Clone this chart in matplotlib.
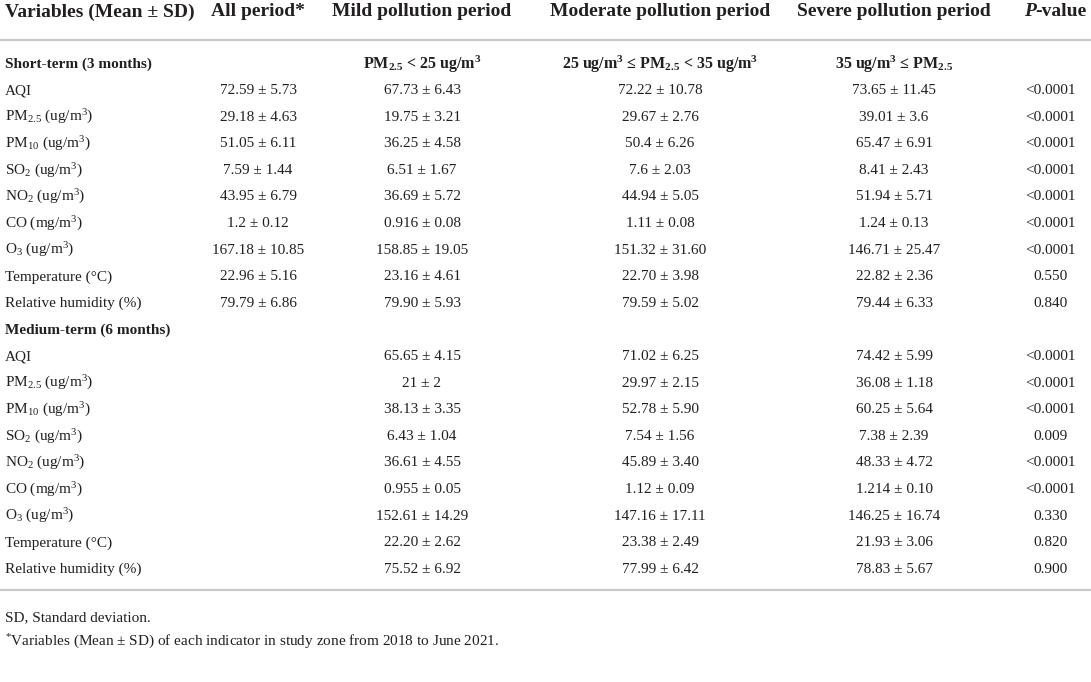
import matplotlib
matplotlib.use("Agg")
import matplotlib.pyplot as plt

plt.rcParams["font.family"] = "Liberation Serif"
plt.rcParams["mathtext.fontset"] = "custom"
plt.rcParams["mathtext.rm"] = "Liberation Serif"
plt.rcParams["mathtext.it"] = "Liberation Serif:italic"
plt.rcParams["mathtext.bf"] = "Liberation Serif:bold"
plt.rcParams["mathtext.default"] = "regular"

# ---- table content ----
headers = ["Variables (Mean ± SD)", "All period*", "Mild pollution period",
           "Moderate pollution period", "Severe pollution period", "P-value"]

variables = ["AQI", "PM$_{2.5}$ (ug/m$^{3}$)", "PM$_{10}$ (ug/m$^{3}$)",
             "SO$_{2}$ (ug/m$^{3}$)", "NO$_{2}$ (ug/m$^{3}$)", "CO (mg/m$^{3}$)",
             "O$_{3}$ (ug/m$^{3}$)", "Temperature (°C)", "Relative humidity (%)"]

short_label = "Short-term (3 months)"
short_ranges = ["",
                "PM$_{\\mathbf{2.5}}$ < 25 ug/m$^{\\mathbf{3}}$",
                "25 ug/m$^{\\mathbf{3}}$ ≤ PM$_{\\mathbf{2.5}}$ < 35 ug/m$^{\\mathbf{3}}$",
                "35 ug/m$^{\\mathbf{3}}$ ≤ PM$_{\\mathbf{2.5}}$"]
short_all = ["72.59 ± 5.73", "29.18 ± 4.63", "51.05 ± 6.11", "7.59 ± 1.44",
             "43.95 ± 6.79", "1.2 ± 0.12", "167.18 ± 10.85", "22.96 ± 5.16",
             "79.79 ± 6.86"]
short_mild = ["67.73 ± 6.43", "19.75 ± 3.21", "36.25 ± 4.58", "6.51 ± 1.67",
              "36.69 ± 5.72", "0.916 ± 0.08", "158.85 ± 19.05", "23.16 ± 4.61",
              "79.90 ± 5.93"]
short_moderate = ["72.22 ± 10.78", "29.67 ± 2.76", "50.4 ± 6.26", "7.6 ± 2.03",
                  "44.94 ± 5.05", "1.11 ± 0.08", "151.32 ± 31.60", "22.70 ± 3.98",
                  "79.59 ± 5.02"]
short_severe = ["73.65 ± 11.45", "39.01 ± 3.6", "65.47 ± 6.91", "8.41 ± 2.43",
                "51.94 ± 5.71", "1.24 ± 0.13", "146.71 ± 25.47", "22.82 ± 2.36",
                "79.44 ± 6.33"]
short_p = ["<0.0001"] * 7 + ["0.550", "0.840"]

medium_label = "Medium-term (6 months)"
medium_all = [""] * 9
medium_mild = ["65.65 ± 4.15", "21 ± 2", "38.13 ± 3.35", "6.43 ± 1.04",
               "36.61 ± 4.55", "0.955 ± 0.05", "152.61 ± 14.29", "22.20 ± 2.62",
               "75.52 ± 6.92"]
medium_moderate = ["71.02 ± 6.25", "29.97 ± 2.15", "52.78 ± 5.90", "7.54 ± 1.56",
                   "45.89 ± 3.40", "1.12 ± 0.09", "147.16 ± 17.11", "23.38 ± 2.49",
                   "77.99 ± 6.42"]
medium_severe = ["74.42 ± 5.99", "36.08 ± 1.18", "60.25 ± 5.64", "7.38 ± 2.39",
                 "48.33 ± 4.72", "1.214 ± 0.10", "146.25 ± 16.74", "21.93 ± 3.06",
                 "78.83 ± 5.67"]
medium_p = ["<0.0001", "<0.0001", "<0.0001", "0.009", "<0.0001", "<0.0001",
            "0.330", "0.820", "0.900"]

footnotes = ["SD, Standard deviation.",
             "$^{*}$Variables (Mean ± SD) of each indicator in study zone from 2018 to June 2021."]

# ---- layout (pixels) ----
W, H = 1091, 682
col_x = [5, 258, 422, 660, 894, 1050]
header_y = 12
line1_y = 40
row_start = 64
row_h = 26.6
text_color = "#231f20"
line_color = "#c8c8c8"
fs = 11
fs_head = 14
fs_range = 11.5

fig = plt.figure(figsize=(W / 100, H / 100), dpi=100)
ax = fig.add_axes([0, 0, 1, 1])
ax.set_xlim(0, W)
ax.set_ylim(H, 0)
ax.axis("off")

# header
for i, h in enumerate(headers[:-1]):
    ax.text(col_x[i], header_y, h, fontsize=fs_head, fontweight="bold",
            ha="left" if i == 0 else "center", va="center", color=text_color)

# "P-value" header: italic P + "-value", right edge near the figure border
value_txt = ax.text(1087, header_y, "-value", fontsize=fs_head, fontweight="bold",
                    ha="right", va="center", color=text_color)
fig.canvas.draw()
bb = value_txt.get_window_extent()
p_x = ax.transData.inverted().transform((bb.x0, bb.y0))[0]
ax.text(p_x, header_y, "P", fontsize=fs_head, fontweight="bold", fontstyle="italic",
        ha="right", va="center", color=text_color)

ax.plot([0, W], [line1_y, line1_y], color=line_color, lw=1.6)


def draw_block(y0, label, ranges, cols, pvals):
    ax.text(col_x[0], y0, label, fontsize=fs, fontweight="bold", ha="left",
            va="center", color=text_color)
    for j, r in enumerate(ranges):
        if r:
            ax.text(col_x[j + 1], y0, r, fontsize=fs_range, fontweight="bold",
                    ha="center", va="center", color=text_color)
    for k, var in enumerate(variables):
        y = y0 + (k + 1) * row_h
        ax.text(col_x[0], y, var, fontsize=fs, ha="left", va="center",
                color=text_color)
        for j, col in enumerate(cols):
            if col[k]:
                ax.text(col_x[j + 1], y, col[k], fontsize=fs, ha="center",
                        va="center", color=text_color)
        ax.text(col_x[5], y, pvals[k], fontsize=fs, ha="center", va="center",
                color=text_color)


draw_block(row_start, short_label, short_ranges,
           [short_all, short_mild, short_moderate, short_severe], short_p)
draw_block(row_start + 10 * row_h, medium_label, ["", "", "", ""],
           [medium_all, medium_mild, medium_moderate, medium_severe], medium_p)

line2_y = 590
ax.plot([0, W], [line2_y, line2_y], color=line_color, lw=1.6)

ax.text(col_x[0], 618, footnotes[0], fontsize=11, ha="left", va="center",
        color=text_color)
ax.text(col_x[0], 642, footnotes[1], fontsize=11, ha="left", va="center",
        color=text_color)

fig.savefig("out.png", dpi=100, facecolor="white")
